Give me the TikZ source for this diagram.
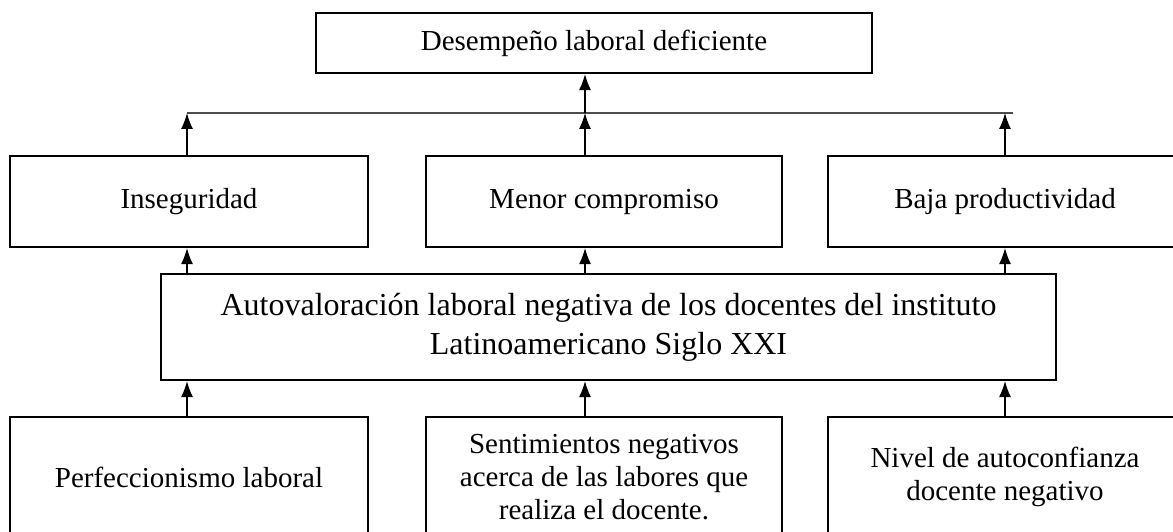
\documentclass[tikz,border=0pt]{standalone}
\usepackage{fontspec}
\setmainfont{Liberation Serif}
\usetikzlibrary{arrows.meta}
\tikzset{
  caja/.style={draw, line width=2.2pt, align=center, inner sep=0pt,
    font=\fontsize{29}{33}\selectfont},
  flecha/.style={->, line width=1.2pt},
}
\begin{document}
\begin{tikzpicture}[>={Latex[length=16pt,width=12pt]}, x=1pt, y=-1pt]
    \useasboundingbox (0,0) rectangle (1173,532);
    \node[caja, minimum width=556pt, minimum height=60pt] (efecto) at (594,43) {Desempeño laboral deficiente};
    \node[caja, minimum width=358pt, minimum height=91pt] (inseg) at (189,201.5) {Inseguridad};
    \node[caja, minimum width=356pt, minimum height=91pt] (menor) at (604,201.5) {Menor compromiso};
    \node[caja, minimum width=354pt, minimum height=91pt] (baja) at (1005,201.5) {Baja productividad};
    \node[caja, minimum width=895pt, minimum height=106pt, font=\fontsize{32}{39}\selectfont] (auto) at (608.5,327)
        {Autovaloración laboral negativa de los docentes del instituto\\Latinoamericano Siglo XXI};
    \node[caja, minimum width=358pt, minimum height=120pt] (perf) at (189,477) {Perfeccionismo laboral};
    \node[caja, minimum width=356pt, minimum height=120pt] (sent) at (604,477) {Sentimientos negativos\\acerca de las labores que\\realiza el docente.};
    \node[caja, minimum width=354pt, minimum height=120pt] (nivel) at (1005,477) {Nivel de autoconfianza\\docente negativo};
    \coordinate (col1) at (187,113);
    \coordinate (col2) at (585,113);
    \coordinate (col3) at (1005,113);
    \coordinate (finlinea) at (1013,113);
    \draw[black!70, line width=1.4pt] (col1) -- (finlinea);
    \draw[flecha] (col2) -- (efecto.south -| col2);
    \foreach \c/\n in {col1/inseg, col2/menor, col3/baja} {
        \draw[flecha] (\n.north -| \c) -- (\c);
        \draw[flecha] (auto.north -| \c) -- (\n.south -| \c);
    }
    \foreach \c/\n in {col1/perf, col2/sent, col3/nivel}
        \draw[flecha] (\n.north -| \c) -- (auto.south -| \c);
\end{tikzpicture}
\end{document}
